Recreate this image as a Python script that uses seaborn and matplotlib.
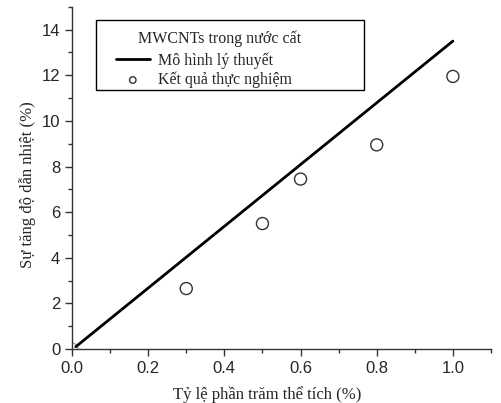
import numpy as np
import pandas as pd
import seaborn as sb
import matplotlib
matplotlib.use('Agg')
import matplotlib.pyplot as plt
from matplotlib.ticker import MultipleLocator
from matplotlib.patches import Rectangle

# du lieu doc tu hinh
ly_thuyet_x = [0.01, 1.0]
ly_thuyet_y = [0.1, 13.5]
thuc_nghiem_x = [0.3, 0.5, 0.6, 0.8, 1.0]
thuc_nghiem_y = [2.65, 5.5, 7.45, 8.95, 11.95]
goc_x = [0.0]
goc_y = [0.0]

sb.set_style('ticks')
plt.rcParams['font.family'] = ['Liberation Sans', 'DejaVu Sans']

fig = plt.figure(figsize=(5.01, 4.03), dpi=100)
ax = fig.add_axes([0.1437, 0.134, 0.8363, 0.849])

df_lt = pd.DataFrame({'x': ly_thuyet_x, 'y': ly_thuyet_y})
df_tn = pd.DataFrame({'x': thuc_nghiem_x, 'y': thuc_nghiem_y})

sb.lineplot(data=df_lt, x='x', y='y', ax=ax, color='black', linewidth=2,
            label='Mô hình lý thuyết', zorder=3)
sb.scatterplot(data=df_tn, x='x', y='y', ax=ax, marker='o', s=75,
               facecolor='none', edgecolor='#333333', linewidth=1.0,
               label='Kết quả thực nghiệm', zorder=2)
# diem goc bi truc che mot phan
sb.scatterplot(x=goc_x, y=goc_y, ax=ax, marker='o', s=75, facecolor='none',
               edgecolor='#aaaaaa', linewidth=1.0, zorder=1, legend=False)

ax.set_xlim(0, 1.1)
ax.set_ylim(0, 15)
ax.xaxis.set_minor_locator(MultipleLocator(0.1))
ax.yaxis.set_major_locator(MultipleLocator(2))
ax.yaxis.set_minor_locator(MultipleLocator(1))
ax.set_xticks([0, 0.2, 0.4, 0.6, 0.8, 1.0])
ax.set_xticklabels(['0.0', '0.2', '0.4', '0.6', '0.8', '1.0'])
ax.tick_params(which='major', length=5, width=1, labelsize=12, color='#333333')
ax.tick_params(which='minor', length=3, width=1, color='#333333')
sb.despine(ax=ax)
for s in ['left', 'bottom']:
    ax.spines[s].set_linewidth(1)
    ax.spines[s].set_color('#333333')

ax.set_xlabel('Tỷ lệ phần trăm thể tích (%)', family='Liberation Serif', fontsize=12)
ax.xaxis.set_label_coords(0.465, -0.108)
ax.set_ylabel('Sự tăng độ dẫn nhiệt (%)', family='Liberation Serif', fontsize=12)
ax.yaxis.set_label_coords(-0.086, 0.48)

# khung chu thich
ax.add_patch(Rectangle((0.0573, 0.757), 0.64, 0.205, transform=ax.transAxes,
                       facecolor='white', edgecolor='black', linewidth=1, zorder=4))
ax.text(0.353, 0.893, 'MWCNTs trong nước cất', transform=ax.transAxes,
        family='Liberation Serif', fontsize=11.5, ha='center', va='baseline', zorder=5)

leg = ax.legend(loc='upper left', bbox_to_anchor=(0.105, 0.868), frameon=False,
                borderpad=0, borderaxespad=0, handlelength=2.1, handletextpad=0.55,
                labelspacing=0.2, prop={'family': 'Liberation Serif', 'size': 11.5})
leg.set_zorder(6)
leg.legend_handles[1].set_sizes([22])

fig.savefig('out.png', dpi=100)
